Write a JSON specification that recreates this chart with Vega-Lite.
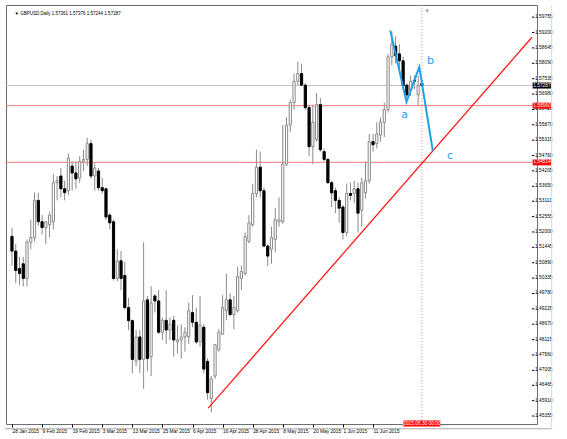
{
"$schema": "https://vega.github.io/schema/vega-lite/v6.json",
"width": 531,
"height": 419,
"autosize": "none",
"padding": {"left": 6, "top": 5, "right": 30, "bottom": 15},
"background": "white",
"config": {
  "view": {"stroke": "#6e6e6e", "strokeWidth": 1},
  "axis": {"grid": false, "domain": false, "labelFont": "Liberation Sans", "labelFontSize": 4.8, "labelColor": "#000000", "tickColor": "#000000", "tickSize": 3, "title": null, "labelOverlap": false}
},
"datasets": {
  "bars": [
    {"i":0,"d":"2015-01-28","o":1.5184,"h":1.5216,"l":1.5078,"c":1.5131},
    {"i":1,"d":"2015-01-29","o":1.5131,"h":1.5156,"l":1.5015,"c":1.5061},
    {"i":2,"d":"2015-01-30","o":1.5068,"h":1.5110,"l":1.5008,"c":1.5050},
    {"i":3,"d":"2015-02-02","o":1.5085,"h":1.5110,"l":1.5004,"c":1.5032},
    {"i":4,"d":"2015-02-03","o":1.5032,"h":1.5173,"l":1.5004,"c":1.5163},
    {"i":5,"d":"2015-02-04","o":1.5163,"h":1.5244,"l":1.5138,"c":1.5180},
    {"i":6,"d":"2015-02-05","o":1.5180,"h":1.5342,"l":1.5166,"c":1.5314},
    {"i":7,"d":"2015-02-06","o":1.5314,"h":1.5342,"l":1.5223,"c":1.5237},
    {"i":8,"d":"2015-02-09","o":1.5237,"h":1.5261,"l":1.5191,"c":1.5216},
    {"i":9,"d":"2015-02-10","o":1.5216,"h":1.5237,"l":1.5156,"c":1.5237},
    {"i":10,"d":"2015-02-11","o":1.5226,"h":1.5272,"l":1.5180,"c":1.5261},
    {"i":11,"d":"2015-02-12","o":1.5237,"h":1.5409,"l":1.5209,"c":1.5378},
    {"i":12,"d":"2015-02-13","o":1.5378,"h":1.5402,"l":1.5314,"c":1.5385},
    {"i":13,"d":"2015-02-16","o":1.5402,"h":1.5431,"l":1.5325,"c":1.5356},
    {"i":14,"d":"2015-02-17","o":1.5356,"h":1.5385,"l":1.5314,"c":1.5342},
    {"i":15,"d":"2015-02-18","o":1.5349,"h":1.5483,"l":1.5332,"c":1.5466},
    {"i":16,"d":"2015-02-19","o":1.5438,"h":1.5455,"l":1.5349,"c":1.5413},
    {"i":17,"d":"2015-02-20","o":1.5413,"h":1.5455,"l":1.5356,"c":1.5392},
    {"i":18,"d":"2015-02-23","o":1.5395,"h":1.5473,"l":1.5378,"c":1.5455},
    {"i":19,"d":"2015-02-24","o":1.5455,"h":1.5497,"l":1.5420,"c":1.5462},
    {"i":20,"d":"2015-02-25","o":1.5462,"h":1.5540,"l":1.5438,"c":1.5519},
    {"i":21,"d":"2015-02-26","o":1.5519,"h":1.5533,"l":1.5392,"c":1.5402},
    {"i":22,"d":"2015-02-27","o":1.5402,"h":1.5448,"l":1.5349,"c":1.5431},
    {"i":23,"d":"2015-03-02","o":1.5420,"h":1.5431,"l":1.5349,"c":1.5360},
    {"i":24,"d":"2015-03-03","o":1.5360,"h":1.5395,"l":1.5339,"c":1.5349},
    {"i":25,"d":"2015-03-04","o":1.5356,"h":1.5360,"l":1.5244,"c":1.5254},
    {"i":26,"d":"2015-03-05","o":1.5261,"h":1.5268,"l":1.5209,"c":1.5233},
    {"i":27,"d":"2015-03-06","o":1.5237,"h":1.5244,"l":1.5025,"c":1.5032},
    {"i":28,"d":"2015-03-09","o":1.5032,"h":1.5138,"l":1.5022,"c":1.5096},
    {"i":29,"d":"2015-03-10","o":1.5096,"h":1.5131,"l":1.4990,"c":1.5032},
    {"i":30,"d":"2015-03-11","o":1.5043,"h":1.5092,"l":1.4920,"c":1.4927},
    {"i":31,"d":"2015-03-12","o":1.4927,"h":1.4962,"l":1.4845,"c":1.4880},
    {"i":32,"d":"2015-03-13","o":1.4880,"h":1.4884,"l":1.4690,"c":1.4740},
    {"i":33,"d":"2015-03-16","o":1.4733,"h":1.4846,"l":1.4715,"c":1.4821},
    {"i":34,"d":"2015-03-17","o":1.4821,"h":1.4846,"l":1.4690,"c":1.4740},
    {"i":35,"d":"2015-03-18","o":1.4740,"h":1.5163,"l":1.4634,"c":1.4951},
    {"i":36,"d":"2015-03-19","o":1.4955,"h":1.4969,"l":1.4697,"c":1.4743},
    {"i":37,"d":"2015-03-20","o":1.4750,"h":1.5004,"l":1.4680,"c":1.4944},
    {"i":38,"d":"2015-03-23","o":1.4969,"h":1.4976,"l":1.4909,"c":1.4951},
    {"i":39,"d":"2015-03-24","o":1.4951,"h":1.4990,"l":1.4831,"c":1.4838},
    {"i":40,"d":"2015-03-25","o":1.4838,"h":1.4891,"l":1.4810,"c":1.4881},
    {"i":41,"d":"2015-03-26","o":1.4881,"h":1.4990,"l":1.4796,"c":1.4846},
    {"i":42,"d":"2015-03-27","o":1.4846,"h":1.4891,"l":1.4810,"c":1.4867},
    {"i":43,"d":"2015-03-30","o":1.4881,"h":1.4898,"l":1.4750,"c":1.4810},
    {"i":44,"d":"2015-03-31","o":1.4803,"h":1.4863,"l":1.4761,"c":1.4810},
    {"i":45,"d":"2015-04-01","o":1.4810,"h":1.4867,"l":1.4743,"c":1.4821},
    {"i":46,"d":"2015-04-02","o":1.4821,"h":1.4856,"l":1.4768,"c":1.4838},
    {"i":47,"d":"2015-04-03","o":1.4821,"h":1.4944,"l":1.4796,"c":1.4916},
    {"i":48,"d":"2015-04-06","o":1.4909,"h":1.4972,"l":1.4856,"c":1.4874},
    {"i":49,"d":"2015-04-07","o":1.4874,"h":1.4927,"l":1.4796,"c":1.4803},
    {"i":50,"d":"2015-04-08","o":1.4803,"h":1.4969,"l":1.4786,"c":1.4863},
    {"i":51,"d":"2015-04-09","o":1.4856,"h":1.4867,"l":1.4690,"c":1.4705},
    {"i":52,"d":"2015-04-10","o":1.4733,"h":1.4745,"l":1.4595,"c":1.4620},
    {"i":53,"d":"2015-04-13","o":1.4599,"h":1.4680,"l":1.4550,"c":1.4669},
    {"i":54,"d":"2015-04-14","o":1.4680,"h":1.4796,"l":1.4669,"c":1.4793},
    {"i":55,"d":"2015-04-15","o":1.4775,"h":1.4849,"l":1.4768,"c":1.4838},
    {"i":56,"d":"2015-04-16","o":1.4831,"h":1.4972,"l":1.4828,"c":1.4927},
    {"i":57,"d":"2015-04-17","o":1.4916,"h":1.5050,"l":1.4881,"c":1.4955},
    {"i":58,"d":"2015-04-20","o":1.4955,"h":1.4979,"l":1.4895,"c":1.4902},
    {"i":59,"d":"2015-04-21","o":1.4902,"h":1.4969,"l":1.4849,"c":1.4927},
    {"i":60,"d":"2015-04-22","o":1.4916,"h":1.5075,"l":1.4909,"c":1.5039},
    {"i":61,"d":"2015-04-23","o":1.5032,"h":1.5078,"l":1.4990,"c":1.5057},
    {"i":62,"d":"2015-04-24","o":1.5050,"h":1.5198,"l":1.5043,"c":1.5184},
    {"i":63,"d":"2015-04-27","o":1.5166,"h":1.5261,"l":1.5159,"c":1.5233},
    {"i":64,"d":"2015-04-28","o":1.5226,"h":1.5374,"l":1.5219,"c":1.5339},
    {"i":65,"d":"2015-04-29","o":1.5339,"h":1.5497,"l":1.5325,"c":1.5434},
    {"i":66,"d":"2015-04-30","o":1.5434,"h":1.5490,"l":1.5325,"c":1.5349},
    {"i":67,"d":"2015-05-01","o":1.5349,"h":1.5360,"l":1.5145,"c":1.5149},
    {"i":68,"d":"2015-05-04","o":1.5149,"h":1.5156,"l":1.5078,"c":1.5113},
    {"i":69,"d":"2015-05-05","o":1.5138,"h":1.5219,"l":1.5085,"c":1.5180},
    {"i":70,"d":"2015-05-06","o":1.5173,"h":1.5286,"l":1.5127,"c":1.5244},
    {"i":71,"d":"2015-05-07","o":1.5237,"h":1.5325,"l":1.5219,"c":1.5244},
    {"i":72,"d":"2015-05-08","o":1.5237,"h":1.5586,"l":1.5230,"c":1.5445},
    {"i":73,"d":"2015-05-11","o":1.5445,"h":1.5614,"l":1.5438,"c":1.5586},
    {"i":74,"d":"2015-05-12","o":1.5586,"h":1.5677,"l":1.5561,"c":1.5667},
    {"i":75,"d":"2015-05-13","o":1.5667,"h":1.5772,"l":1.5642,"c":1.5744},
    {"i":76,"d":"2015-05-14","o":1.5744,"h":1.5815,"l":1.5727,"c":1.5772},
    {"i":77,"d":"2015-05-15","o":1.5772,"h":1.5808,"l":1.5727,"c":1.5730},
    {"i":78,"d":"2015-05-18","o":1.5730,"h":1.5737,"l":1.5642,"c":1.5649},
    {"i":79,"d":"2015-05-19","o":1.5649,"h":1.5656,"l":1.5473,"c":1.5508},
    {"i":80,"d":"2015-05-20","o":1.5508,"h":1.5660,"l":1.5445,"c":1.5596},
    {"i":81,"d":"2015-05-21","o":1.5533,"h":1.5702,"l":1.5526,"c":1.5660},
    {"i":82,"d":"2015-05-22","o":1.5660,"h":1.5684,"l":1.5490,"c":1.5497},
    {"i":83,"d":"2015-05-25","o":1.5490,"h":1.5501,"l":1.5455,"c":1.5462},
    {"i":84,"d":"2015-05-26","o":1.5462,"h":1.5466,"l":1.5374,"c":1.5378},
    {"i":85,"d":"2015-05-27","o":1.5378,"h":1.5385,"l":1.5290,"c":1.5341},
    {"i":86,"d":"2015-05-28","o":1.5349,"h":1.5360,"l":1.5268,"c":1.5314},
    {"i":87,"d":"2015-05-29","o":1.5314,"h":1.5325,"l":1.5233,"c":1.5286},
    {"i":88,"d":"2015-06-01","o":1.5290,"h":1.5297,"l":1.5173,"c":1.5198},
    {"i":89,"d":"2015-06-02","o":1.5198,"h":1.5374,"l":1.5184,"c":1.5339},
    {"i":90,"d":"2015-06-03","o":1.5339,"h":1.5378,"l":1.5314,"c":1.5332},
    {"i":91,"d":"2015-06-04","o":1.5339,"h":1.5385,"l":1.5304,"c":1.5356},
    {"i":92,"d":"2015-06-05","o":1.5356,"h":1.5378,"l":1.5198,"c":1.5268},
    {"i":93,"d":"2015-06-08","o":1.5279,"h":1.5395,"l":1.5219,"c":1.5378},
    {"i":94,"d":"2015-06-09","o":1.5342,"h":1.5455,"l":1.5321,"c":1.5385},
    {"i":95,"d":"2015-06-10","o":1.5385,"h":1.5554,"l":1.5374,"c":1.5526},
    {"i":96,"d":"2015-06-11","o":1.5526,"h":1.5554,"l":1.5490,"c":1.5515},
    {"i":97,"d":"2015-06-12","o":1.5519,"h":1.5596,"l":1.5501,"c":1.5554},
    {"i":98,"d":"2015-06-15","o":1.5550,"h":1.5614,"l":1.5526,"c":1.5596},
    {"i":99,"d":"2015-06-16","o":1.5596,"h":1.5667,"l":1.5543,"c":1.5642},
    {"i":100,"d":"2015-06-17","o":1.5642,"h":1.5843,"l":1.5631,"c":1.5832},
    {"i":101,"d":"2015-06-18","o":1.5832,"h":1.5924,"l":1.5801,"c":1.5878},
    {"i":102,"d":"2015-06-19","o":1.5871,"h":1.5906,"l":1.5808,"c":1.5836},
    {"i":103,"d":"2015-06-22","o":1.5843,"h":1.5878,"l":1.5790,"c":1.5818},
    {"i":104,"d":"2015-06-23","o":1.5818,"h":1.5832,"l":1.5712,"c":1.5727},
    {"i":105,"d":"2015-06-24","o":1.5730,"h":1.5737,"l":1.5677,"c":1.5695},
    {"i":106,"d":"2015-06-25","o":1.5712,"h":1.5765,"l":1.5691,"c":1.5744},
    {"i":107,"d":"2015-06-26","o":1.5748,"h":1.5765,"l":1.5716,"c":1.5744},
    {"i":108,"d":"2015-06-29","o":1.5695,"h":1.5765,"l":1.5656,"c":1.5730},
    {"i":109,"d":"2015-06-30","o":1.57361,"h":1.57376,"l":1.57244,"c":1.57287}
  ],
  "yticks": [{"v":1.59755},{"v":1.592},{"v":1.58645},{"v":1.5809},{"v":1.57535},{"v":1.5698},{"v":1.56425},{"v":1.5587},{"v":1.55315},{"v":1.5476},{"v":1.54205},{"v":1.5365},{"v":1.5311},{"v":1.52555},{"v":1.52},{"v":1.51445},{"v":1.5089},{"v":1.50335},{"v":1.4978},{"v":1.49225},{"v":1.4867},{"v":1.48115},{"v":1.4756},{"v":1.47005},{"v":1.46465},{"v":1.4591},{"v":1.45355}],
  "levels": [{"p":1.5656,"t":"1.56560"},{"p":1.54514,"t":"1.54514"}],
  "bid": [{"p":1.57287,"t":"1.57287"}],
  "trend": [{"i":52.18,"p":1.4564},{"i":138.27,"p":1.5903}],
  "wave": [{"i":100.6,"p":1.5927},{"i":104.9,"p":1.5669},{"i":108.3,"p":1.5796},{"i":111.9,"p":1.5493}],
  "waveLabels": [{"i":104.4,"p":1.5621,"t":"a"},{"i":111.3,"p":1.5818,"t":"b"},{"i":116.5,"p":1.5473,"t":"c"}]
},
"layer": [
  {
    "data": {"name": "bars"},
    "mark": {"type": "rule", "color": "#8a8a8a", "strokeWidth": 1},
    "encoding": {
      "x": {"field": "i", "type": "quantitative", "scale": {"domain": [-0.26, 138.27], "nice": false, "zero": false},
        "axis": {"orient": "bottom", "values": [0,8,16,24,32,40,48,56,64,72,80,88,96],
          "labelExpr": "['28 Jan 2015','9 Feb 2015','19 Feb 2015','3 Mar 2015','13 Mar 2015','25 Mar 2015','6 Apr 2015','16 Apr 2015','28 Apr 2015','8 May 2015','20 May 2015','1 Jun 2015','11 Jun 2015'][round(datum.value/8)]",
          "labelAlign": "left", "labelPadding": 1, "labelFlush": false, "labelOverlap": false, "tickSize": 3, "labelBaseline": "top"}},
      "y": {"field": "l", "type": "quantitative", "scale": {"domain": [1.45248, 1.60014], "nice": false, "zero": false}, "axis": null},
      "y2": {"field": "h"}
    }
  },
  {
    "data": {"name": "levels"},
    "mark": {"type": "rule", "color": "#f07a7a", "strokeWidth": 1},
    "encoding": {
      "y": {"field": "p", "type": "quantitative", "axis": null}
    }
  },
  {
    "data": {"name": "bid"},
    "mark": {"type": "rule", "color": "#c4c4c4", "strokeWidth": 1},
    "encoding": {
      "y": {"field": "p", "type": "quantitative", "axis": null}
    }
  },
  {
    "data": {"values": [{}]},
    "mark": {"type": "rule", "color": "#f08a8a", "strokeWidth": 1, "strokeDash": [1, 2]},
    "encoding": {
      "x": {"datum": 109, "type": "quantitative"}
    }
  },
  {
    "data": {"values": [{}]},
    "mark": {"type": "point", "shape": "triangle-down", "size": 14, "filled": true, "color": "#9a9a9a", "opacity": 1},
    "encoding": {
      "x": {"datum": 110.4, "type": "quantitative"},
      "y": {"datum": 1.5997, "type": "quantitative", "axis": null}
    }
  },
  {
    "data": {"name": "trend"},
    "mark": {"type": "line", "color": "#ff1a1a", "strokeWidth": 1.3},
    "encoding": {
      "x": {"field": "i", "type": "quantitative"},
      "y": {"field": "p", "type": "quantitative", "axis": null}
    }
  },
  {
    "data": {"name": "bars"},
    "mark": {"type": "bar", "width": 2.2, "strokeWidth": 1},
    "encoding": {
      "x": {"field": "i", "type": "quantitative"},
      "y": {"field": "o", "type": "quantitative", "axis": null},
      "y2": {"field": "c"},
      "fill": {"condition": {"test": "datum.c >= datum.o", "value": "#ffffff"}, "value": "#000000"},
      "stroke": {"condition": {"test": "datum.c >= datum.o", "value": "#8a8a8a"}, "value": "#000000"}
    }
  },
  {
    "data": {"name": "wave"},
    "mark": {"type": "line", "color": "#1fa0e6", "strokeWidth": 2},
    "encoding": {
      "x": {"field": "i", "type": "quantitative"},
      "y": {"field": "p", "type": "quantitative", "axis": null}
    }
  },
  {
    "data": {"name": "waveLabels"},
    "mark": {"type": "text", "color": "#1fa0e6", "font": "DejaVu Sans", "fontSize": 11, "align": "center", "baseline": "middle"},
    "encoding": {
      "x": {"field": "i", "type": "quantitative"},
      "y": {"field": "p", "type": "quantitative", "axis": null},
      "text": {"field": "t"}
    }
  },
  {
    "data": {"name": "yticks"},
    "mark": {"type": "rule", "color": "#000000", "strokeWidth": 1},
    "encoding": {
      "x": {"datum": 138.27, "type": "quantitative"},
      "x2": {"datum": 138.9},
      "y": {"field": "v", "type": "quantitative", "axis": null}
    }
  },
  {
    "data": {"name": "yticks"},
    "mark": {"type": "text", "color": "#000000", "font": "Liberation Sans", "fontSize": 4.8, "align": "left", "baseline": "middle"},
    "encoding": {
      "x": {"datum": 139.1, "type": "quantitative"},
      "y": {"field": "v", "type": "quantitative", "axis": null},
      "text": {"field": "v", "type": "quantitative", "format": ".5f"}
    }
  },
  {
    "data": {"name": "levels"},
    "mark": {"type": "bar", "color": "#ff0000", "height": 6},
    "encoding": {
      "x": {"datum": 138.45, "type": "quantitative"},
      "x2": {"datum": 143.3},
      "y": {"field": "p", "type": "quantitative", "axis": null}
    }
  },
  {
    "data": {"name": "bid"},
    "mark": {"type": "bar", "color": "#000000", "height": 6},
    "encoding": {
      "x": {"datum": 138.45, "type": "quantitative"},
      "x2": {"datum": 143.3},
      "y": {"field": "p", "type": "quantitative", "axis": null}
    }
  },
  {
    "data": {"name": "levels"},
    "mark": {"type": "text", "color": "#ffffff", "font": "Liberation Sans", "fontSize": 4.8, "align": "center", "baseline": "middle"},
    "encoding": {
      "x": {"datum": 140.9, "type": "quantitative"},
      "y": {"field": "p", "type": "quantitative", "axis": null},
      "text": {"field": "t"}
    }
  },
  {
    "data": {"name": "bid"},
    "mark": {"type": "text", "color": "#ffffff", "font": "Liberation Sans", "fontSize": 4.8, "align": "center", "baseline": "middle"},
    "encoding": {
      "x": {"datum": 140.9, "type": "quantitative"},
      "y": {"field": "p", "type": "quantitative", "axis": null},
      "text": {"field": "t"}
    }
  },
  {
    "data": {"values": [{"t": "2015.06.30 00:00"}]},
    "mark": {"type": "bar", "color": "#ff0000", "height": 6},
    "encoding": {
      "x": {"datum": 104.1, "type": "quantitative"},
      "x2": {"datum": 113.9},
      "y": {"datum": 1.45083, "type": "quantitative", "axis": null}
    }
  },
  {
    "data": {"values": [{"t": "2015.06.30 00:00"}]},
    "mark": {"type": "text", "color": "#ffffff", "font": "Liberation Sans", "fontSize": 4.8, "align": "center", "baseline": "middle"},
    "encoding": {
      "x": {"datum": 109, "type": "quantitative"},
      "y": {"datum": 1.45083, "type": "quantitative", "axis": null},
      "text": {"field": "t"}
    }
  },
  {
    "data": {"values": [{"t": "▼ GBPUSD,Daily  1.57361 1.57376 1.57244 1.57287"}]},
    "mark": {"type": "text", "color": "#000000", "font": "Liberation Sans", "fontSize": 4.5, "align": "left", "baseline": "middle"},
    "encoding": {
      "x": {"datum": 0.7, "type": "quantitative"},
      "y": {"datum": 1.5987, "type": "quantitative", "axis": null},
      "text": {"field": "t"}
    }
  },
  {
    "data": {"values": [{}]},
    "mark": {"type": "rule", "color": "#a8a8a8", "strokeWidth": 1},
    "encoding": {
      "x": {"datum": -1.83, "type": "quantitative"},
      "x2": {"datum": 143.5},
      "y": {"datum": 1.44895, "type": "quantitative", "axis": null}
    }
  },
  {
    "data": {"values": [{}]},
    "mark": {"type": "rule", "color": "#c9dcf0", "strokeWidth": 1},
    "encoding": {
      "x": {"datum": 143.5, "type": "quantitative"},
      "y": {"datum": 1.6019, "type": "quantitative", "axis": null},
      "y2": {"datum": 1.44895}
    }
  }
]
}
